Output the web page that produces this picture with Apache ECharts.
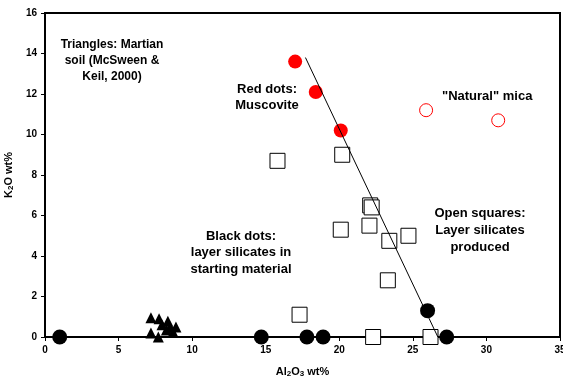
<!DOCTYPE html>
<html><head><meta charset="utf-8">
<script src="https://cdn.jsdelivr.net/npm/echarts@6/dist/echarts.min.js"></script>
<style>html,body{margin:0;padding:0;background:#fff}#c{width:563px;height:376px}</style>
</head><body><div id="c"></div>
<script>
const xTicks = [0,5,10,15,20,25,30,35];
const yTicks = [0,2,4,6,8,10,12,14,16];
const muscovite = [[17.0,13.6],[18.4,12.1],[20.1,10.2]];
const naturalMica = [[25.9,11.2],[30.8,10.7]];
const startingMaterial = [[1.0,0],[14.7,0],[17.8,0],[18.9,0],[26.0,1.3],[27.3,0]];
const producedSilicates = [[15.8,8.7],[20.2,9.0],[22.1,6.5],[22.2,6.4],[22.05,5.5],[20.1,5.3],[23.4,4.75],[24.7,5.0],[23.3,2.8],[17.3,1.1],[22.3,0],[26.2,0]];
const martianSoil = [[7.2,0.95],[7.75,0.9],[8.35,0.78],[8.9,0.5],[7.95,0.6],[7.2,0.2],[7.7,0.0],[8.25,0.35],[8.7,0.25],[8.5,0.5]];
const trendLine = [[17.7,13.8],[26.7,0]];

const font = 'Liberation Sans, Arial, sans-serif';
const chart = echarts.init(document.getElementById('c'));
const annot = (x, y, text, size, lh, align) => ({
  type: 'text', x: x, y: y, z: 100,
  style: { text: text, font: 'bold ' + size + 'px ' + font, fill: '#000', textAlign: align || 'center', textVerticalAlign: 'top', lineHeight: lh }
});
chart.setOption({
  animation: false,
  backgroundColor: '#fff',
  grid: { left: 45, right: 3, top: 13, bottom: 39, show: true, borderColor: '#000', borderWidth: 2, containLabel: false, outerBoundsMode: 'none' },
  xAxis: {
    type: 'value', min: 0, max: 35, interval: 5,
    name: '{a|Al}{s|2}{a|O}{s|3}{a| wt%}', nameLocation: 'middle', nameGap: 28,
    nameTextStyle: { rich: {
      a: { fontFamily: font, fontWeight: 'bold', fontSize: 11, color: '#000' },
      s: { fontFamily: font, fontWeight: 'bold', fontSize: 8, color: '#000', padding: [5,0,0,0] } } },
    axisLine: { lineStyle: { color: '#000', width: 2 } },
    axisTick: { inside: false, length: 4, lineStyle: { color: '#000' } },
    axisLabel: { fontFamily: font, fontWeight: 'bold', fontSize: 10, color: '#000', margin: 8 },
    splitLine: { show: false }
  },
  yAxis: {
    type: 'value', min: 0, max: 16, interval: 2,
    name: '{a|K}{s|2}{a|O wt%}', nameLocation: 'middle', nameGap: 23, nameRotate: 90,
    nameTextStyle: { rich: {
      a: { fontFamily: font, fontWeight: 'bold', fontSize: 11, color: '#000' },
      s: { fontFamily: font, fontWeight: 'bold', fontSize: 8, color: '#000', padding: [5,0,0,0] } } },
    axisLine: { lineStyle: { color: '#000', width: 2 } },
    axisTick: { inside: false, length: 4, lineStyle: { color: '#000' } },
    axisLabel: { fontFamily: font, fontWeight: 'bold', fontSize: 10, color: '#000', margin: 8 },
    splitLine: { show: false }
  },
  series: [
    { type: 'scatter', data: producedSilicates, symbol: 'rect', symbolSize: 15, z: 2,
      itemStyle: { color: '#fff', borderColor: '#000', borderWidth: 1, opacity: 1 } },
    { type: 'scatter', data: startingMaterial, symbol: 'circle', symbolSize: 15, z: 3,
      itemStyle: { color: '#000', opacity: 1 } },
    { type: 'scatter', data: martianSoil, symbol: 'triangle', symbolSize: 11, z: 3,
      itemStyle: { color: '#000', opacity: 1 } },
    { type: 'scatter', data: muscovite, symbol: 'circle', symbolSize: 14, z: 3,
      itemStyle: { color: '#ff0000', opacity: 1 } },
    { type: 'scatter', data: naturalMica, symbol: 'circle', symbolSize: 13, z: 3,
      itemStyle: { color: '#fff', borderColor: '#ff0000', borderWidth: 1, opacity: 1 } },
    { type: 'line', data: trendLine, symbol: 'none', z: 5,
      lineStyle: { color: '#000', width: 1 } }
  ],
  graphic: [
    annot(112, 37, 'Triangles: Martian\nsoil (McSween &\nKeil, 2000)', 12, 16),
    annot(267, 81, 'Red dots:\nMuscovite', 13, 16),
    annot(442, 88, '"Natural" mica', 13, 17, 'left'),
    annot(241, 228, 'Black dots:\nlayer silicates in\nstarting material', 13, 16.5),
    annot(480, 205, 'Open squares:\nLayer silicates\nproduced', 13, 17)
  ]
});
</script></body></html>
